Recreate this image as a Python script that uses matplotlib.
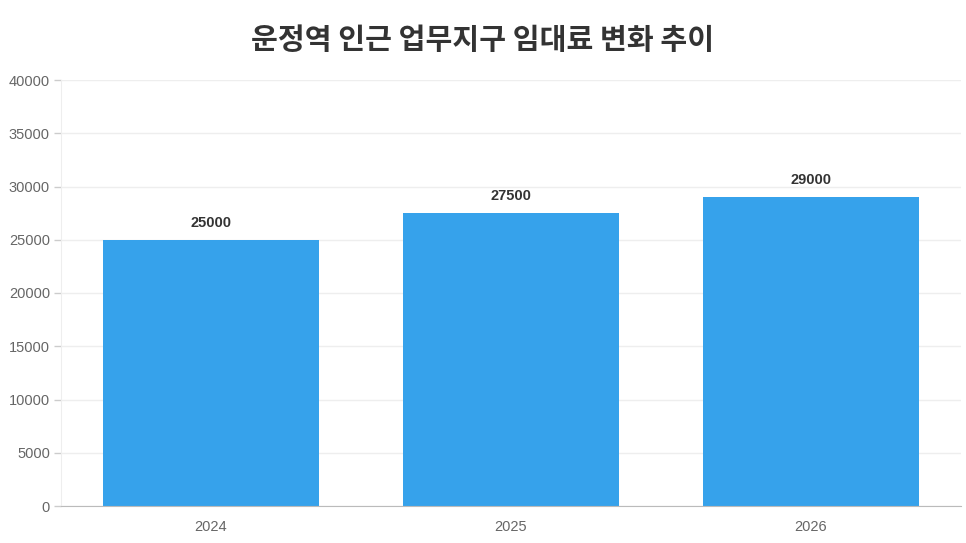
import matplotlib
matplotlib.use('Agg')
import matplotlib.pyplot as plt

# data
years = ['2024', '2025', '2026']
rents = [25000, 27500, 29000]
y_ticks = [0, 5000, 10000, 15000, 20000, 25000, 30000, 35000, 40000]
title = '운정역 인근 업무지구 임대료 변화 추이'

plt.rcParams['font.family'] = ['Liberation Sans', 'Noto Sans CJK KR', 'DejaVu Sans']

fig = plt.figure(figsize=(9.66, 5.43), dpi=100)
ax = fig.add_axes([61 / 966, 37 / 543, 900 / 966, 426 / 543])

x = list(range(len(years)))
ax.bar(x, rents, width=0.72, color='#36A2EB', zorder=2)

for xi, v in zip(x, rents):
    ax.annotate(f'{v}', (xi, v), xytext=(0, 7), textcoords='offset points',
                ha='center', va='bottom', fontsize=10.5, fontweight='bold', color='#333333')

ax.set_xlim(-0.5, len(years) - 0.5)
ax.set_ylim(0, 40000)
ax.set_xticks(x)
ax.set_xticklabels(years)
ax.set_yticks(y_ticks)
ax.tick_params(axis='x', length=0, pad=10, labelsize=10.5, labelcolor='#666666')
ax.tick_params(axis='y', length=5, width=1, color='#cccccc', pad=3, labelsize=10.5, labelcolor='#666666')
ax.grid(axis='y', color='#eeeeee', linewidth=1, zorder=0)
ax.grid(axis='x', visible=False)

for s in ['top', 'right']:
    ax.spines[s].set_visible(False)
ax.spines['left'].set_color('#eeeeee')
ax.spines['bottom'].set_color('#bbbbbb')

fig.text(483 / 966, 1 - 40 / 543, title, ha='center', va='center',
         fontsize=21, fontweight='bold', color='#333333',
         family=['Noto Sans CJK KR', 'DejaVu Sans'])

fig.savefig('out.png', dpi=100)
